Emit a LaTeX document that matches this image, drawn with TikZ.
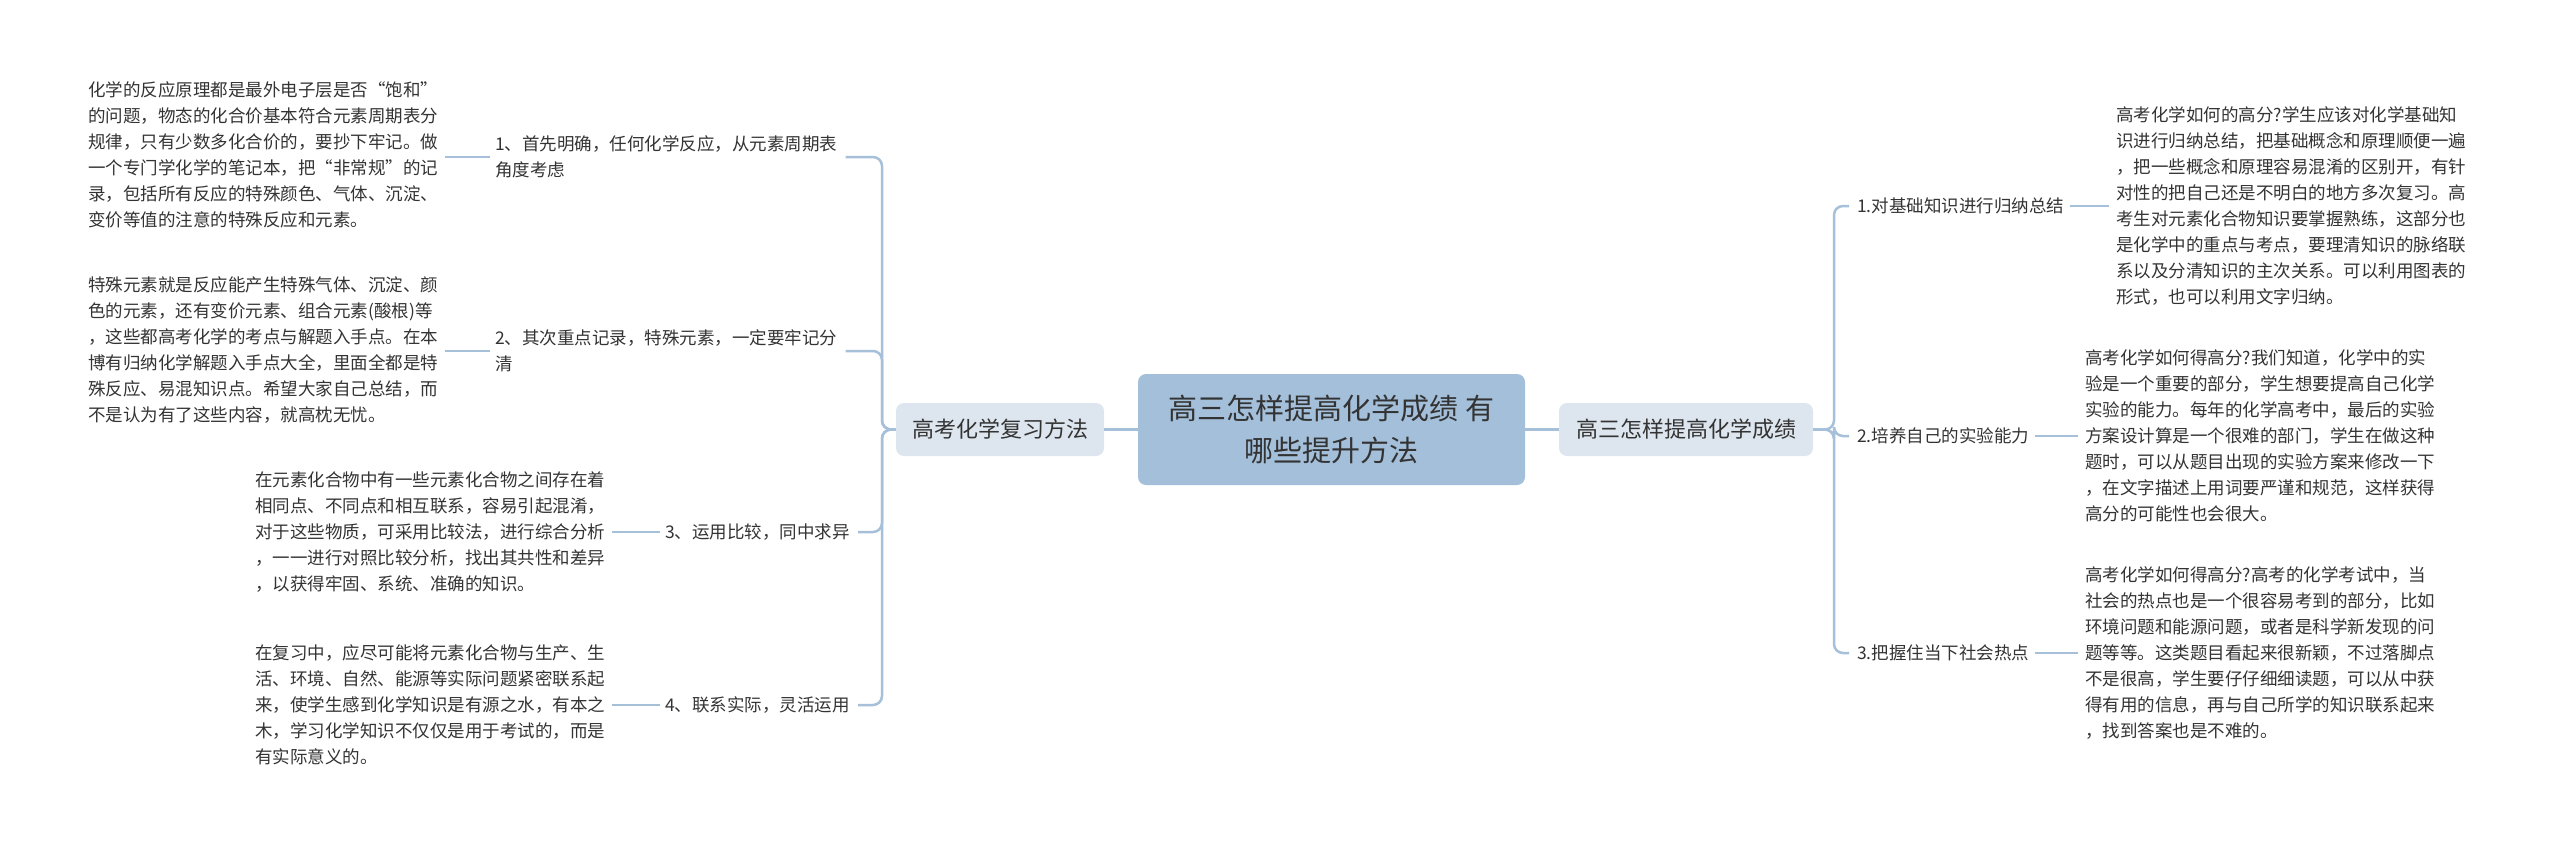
\documentclass[tikz,border=0pt]{standalone}
\usepackage{fontspec}
\setmainfont{Noto Sans CJK SC}
\definecolor{ln}{HTML}{A7C0DA}
\definecolor{cfill}{HTML}{A3BFDA}
\definecolor{bfill}{HTML}{DDE6EF}
\definecolor{tx}{HTML}{333333}
\begin{document}
\begin{tikzpicture}[x=1pt,y=-1pt,
  txt/.style={inner sep=0pt,align=left,text=tx,font=\fontsize{17.5}{26}\selectfont},
  item/.style={inner sep=0pt,align=left,text=tx,font=\fontsize{17.5}{26}\selectfont},
  conn/.style={draw=ln,line width=2.5pt},
  tie/.style={draw=ln,line width=2.5pt,shorten <=5pt,shorten >=7pt},
  br/.style={draw=ln,line width=2.5pt,rounded corners=9pt}]
\useasboundingbox (0,0) rectangle (2560,847);
\node[fill=cfill,rounded corners=8pt,minimum width=387pt,minimum height=111pt,align=center,text=tx,font=\fontsize{29}{42}\selectfont] (c) at (1331.5,429.5) {高三怎样提高化学成绩 有\\哪些提升方法};
\node[fill=bfill,rounded corners=8pt,minimum width=208pt,minimum height=53pt,text=tx,font=\fontsize{22}{26}\selectfont] (lb) at (1000,429.5) {高考化学复习方法};
\node[fill=bfill,rounded corners=8pt,minimum width=254pt,minimum height=53pt,text=tx,font=\fontsize{22}{26}\selectfont] (rb) at (1686,429.5) {高三怎样提高化学成绩};
\draw[conn] (c.west) -- (lb.east);
\draw[conn] (c.east) -- (rb.east -| rb.west) ;
% left items
\node[item,anchor=west] (i1) at (495,157) {1、首先明确，任何化学反应，从元素周期表\\角度考虑};
\node[item,anchor=west] (i2) at (495,351) {2、其次重点记录，特殊元素，一定要牢记分\\清};
\node[item,anchor=west] (i3) at (665,532) {3、运用比较，同中求异};
\node[item,anchor=west] (i4) at (665,705) {4、联系实际，灵活运用};
\coordinate (lt) at (882,429.5);
\foreach \n in {i1,i2,i3,i4}{
  \draw[br] (lb.west) -- (lt) |- ([xshift=8pt]\n.east);
}
\node[txt,anchor=west] (d1) at (88,155) {化学的反应原理都是最外电子层是否“饱和”\\的问题，物态的化合价基本符合元素周期表分\\规律，只有少数多化合价的，要抄下牢记。做\\一个专门学化学的笔记本，把“非常规”的记\\录，包括所有反应的特殊颜色、气体、沉淀、\\变价等值的注意的特殊反应和元素。};
\node[txt,anchor=west] (d2) at (88,350) {特殊元素就是反应能产生特殊气体、沉淀、颜\\色的元素，还有变价元素、组合元素(酸根)等\\，这些都高考化学的考点与解题入手点。在本\\博有归纳化学解题入手点大全，里面全都是特\\殊反应、易混知识点。希望大家自己总结，而\\不是认为有了这些内容，就高枕无忧。};
\node[txt,anchor=west] (d3) at (255,532) {在元素化合物中有一些元素化合物之间存在着\\相同点、不同点和相互联系，容易引起混淆，\\对于这些物质，可采用比较法，进行综合分析\\，一一进行对照比较分析，找出其共性和差异\\，以获得牢固、系统、准确的知识。};
\node[txt,anchor=west] (d4) at (255,705) {在复习中，应尽可能将元素化合物与生产、生\\活、环境、自然、能源等实际问题紧密联系起\\来，使学生感到化学知识是有源之水，有本之\\木，学习化学知识不仅仅是用于考试的，而是\\有实际意义的。};
\draw[tie] (i1.west) -- (i1.west -| d1.east);
\draw[tie] (i2.west) -- (i2.west -| d2.east);
\draw[tie] (i3.west) -- (d3.east);
\draw[tie] (i4.west) -- (d4.east);
% right items
\node[item,anchor=west] (r1) at (1857,206) {1.对基础知识进行归纳总结};
\node[item,anchor=west] (r2) at (1857,436) {2.培养自己的实验能力};
\node[item,anchor=west] (r3) at (1857,653) {3.把握住当下社会热点};
\coordinate (rt) at (1834,429.5);
\foreach \n in {r1,r2,r3}{
  \draw[br] (rb.east) -- (rt) |- ([xshift=-8pt]\n.west);
}
\node[txt,anchor=west] (s1) at (2116,206) {高考化学如何的高分?学生应该对化学基础知\\识进行归纳总结，把基础概念和原理顺便一遍\\，把一些概念和原理容易混淆的区别开，有针\\对性的把自己还是不明白的地方多次复习。高\\考生对元素化合物知识要掌握熟练，这部分也\\是化学中的重点与考点，要理清知识的脉络联\\系以及分清知识的主次关系。可以利用图表的\\形式，也可以利用文字归纳。};
\node[txt,anchor=west] (s2) at (2085,436) {高考化学如何得高分?我们知道，化学中的实\\验是一个重要的部分，学生想要提高自己化学\\实验的能力。每年的化学高考中，最后的实验\\方案设计算是一个很难的部门，学生在做这种\\题时，可以从题目出现的实验方案来修改一下\\，在文字描述上用词要严谨和规范，这样获得\\高分的可能性也会很大。};
\node[txt,anchor=west] (s3) at (2085,653) {高考化学如何得高分?高考的化学考试中，当\\社会的热点也是一个很容易考到的部分，比如\\环境问题和能源问题，或者是科学新发现的问\\题等等。这类题目看起来很新颖，不过落脚点\\不是很高，学生要仔仔细细读题，可以从中获\\得有用的信息，再与自己所学的知识联系起来\\，找到答案也是不难的。};
\draw[tie] (r1.east) -- (s1.west);
\draw[tie] (r2.east) -- (s2.west);
\draw[tie] (r3.east) -- (s3.west);
\end{tikzpicture}
\end{document}
